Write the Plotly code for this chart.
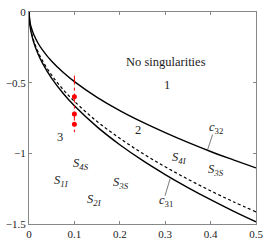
import plotly.graph_objects as go

# Curve samples
x_curve = [0, 0.0025, 0.005, 0.01, 0.02, 0.03, 0.05, 0.075, 0.1, 0.15, 0.2, 0.25, 0.3, 0.35, 0.4, 0.45, 0.5]
c32 = [0, -0.078, -0.110, -0.156, -0.221, -0.270, -0.349, -0.427, -0.493, -0.604, -0.698, -0.780, -0.854, -0.923, -0.987, -1.046, -1.103]
c_dash = [0, -0.100, -0.141, -0.200, -0.283, -0.346, -0.447, -0.548, -0.632, -0.775, -0.894, -1.000, -1.095, -1.183, -1.265, -1.342, -1.414]
c31 = [0, -0.105, -0.148, -0.210, -0.297, -0.364, -0.470, -0.575, -0.664, -0.813, -0.939, -1.050, -1.150, -1.242, -1.328, -1.409, -1.485]

# Red vertical segment and points
red_line_x = [0.1, 0.1]
red_line_y = [-0.45, -0.85]
red_pts_x = [0.1, 0.1, 0.1]
red_pts_y = [-0.60, -0.722, -0.795]

# Region labels
label_text = ["No singularities", "1", "2", "3",
              "<i>S</i><sub><i>4S</i></sub>", "<i>S</i><sub><i>1I</i></sub>",
              "<i>S</i><sub><i>2I</i></sub>", "<i>S</i><sub><i>3S</i></sub>",
              "<i>S</i><sub><i>4I</i></sub>", "<i>S</i><sub><i>3S</i></sub>",
              "<i>c</i><sub>32</sub>", "<i>c</i><sub>31</sub>"]
label_x = [0.302, 0.305, 0.240, 0.068, 0.115, 0.072, 0.144, 0.202, 0.332, 0.411, 0.412, 0.302]
label_y = [-0.355, -0.518, -0.833, -0.887, -1.075, -1.198, -1.331, -1.209, -1.031, -1.120, -0.820, -1.340]

x_ticks = [0, 0.1, 0.2, 0.3, 0.4, 0.5]
y_ticks = [0, -0.5, -1, -1.5]

FONT = "Liberation Serif"

fig = go.Figure()
fig.add_trace(go.Scatter(x=x_curve, y=c32, mode="lines", line=dict(color="black", width=1.4, shape="spline"),
                         showlegend=False, hoverinfo="skip"))
fig.add_trace(go.Scatter(x=x_curve, y=c_dash, mode="lines",
                         line=dict(color="black", width=1.2, dash="3px,2.5px", shape="spline"),
                         showlegend=False, hoverinfo="skip"))
fig.add_trace(go.Scatter(x=x_curve, y=c31, mode="lines", line=dict(color="black", width=1.4, shape="spline"),
                         showlegend=False, hoverinfo="skip"))
fig.add_trace(go.Scatter(x=red_line_x, y=red_line_y, mode="lines",
                         line=dict(color="red", width=1, dash="dashdot"),
                         showlegend=False, hoverinfo="skip"))
fig.add_trace(go.Scatter(x=red_pts_x, y=red_pts_y, mode="markers",
                         marker=dict(color="red", size=5),
                         showlegend=False, hoverinfo="skip"))

# leader lines for c32 and c31
fig.add_shape(type="line", x0=0.4045, y0=-0.867, x1=0.393, y1=-0.978,
              line=dict(color="#555555", width=0.8))
fig.add_shape(type="line", x0=0.2996, y0=-1.30, x1=0.311, y1=-1.178,
              line=dict(color="#555555", width=0.8))

for t, x, y in zip(label_text, label_x, label_y):
    fig.add_annotation(x=x, y=y, text=t, showarrow=False,
                       font=dict(family=FONT, size=12.5, color="#222222"))

axis_common = dict(showgrid=False, zeroline=False, showline=True, linecolor="#888888", linewidth=1,
                   mirror="ticks", ticks="inside", ticklen=3, tickcolor="#888888",
                   ticklabeloverflow="allow",
                   tickfont=dict(family=FONT, size=11, color="#222222"))
fig.update_xaxes(range=[0, 0.5], tickvals=x_ticks, ticktext=[f"{v:g}" for v in x_ticks], **axis_common)
fig.update_yaxes(range=[-1.5, 0], tickvals=y_ticks,
                 ticktext=[("\u2212" + f"{-v:g}") if v < 0 else "0" for v in y_ticks], **axis_common)

fig.update_layout(width=269, height=246, margin=dict(l=25, r=12, t=6, b=16),
                  paper_bgcolor="white", plot_bgcolor="white")
fig.write_html("out.html", config={"displayModeBar": False},
               post_script="document.body.style.margin='0';document.body.style.overflow='hidden';")
